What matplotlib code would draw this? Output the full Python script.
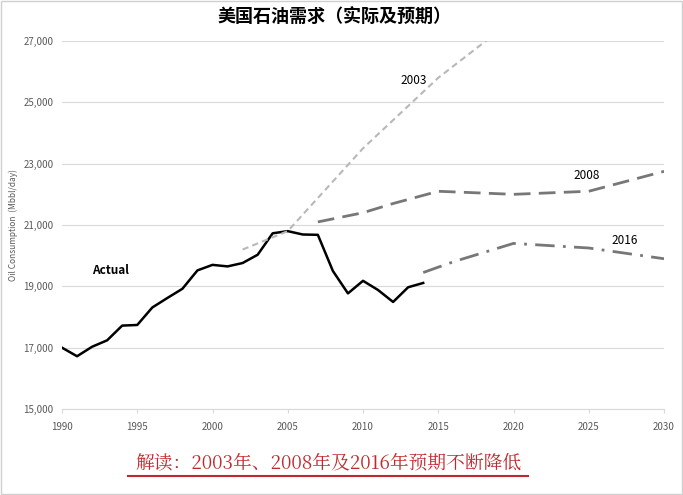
import matplotlib
matplotlib.use("Agg")
import matplotlib.pyplot as plt
from matplotlib.ticker import FuncFormatter

plt.rcParams['font.family'] = ['Noto Sans CJK SC', 'DejaVu Sans']

actual_years = list(range(1990, 2015))
actual_vals = [17000, 16720, 17030, 17240, 17720, 17740, 18310, 18620, 18920, 19520,
               19700, 19650, 19760, 20030, 20730, 20800, 20690, 20680, 19500, 18770,
               19180, 18880, 18490, 18970, 19110]
f2003_years = [2002, 2005, 2010, 2015, 2020]
f2003_vals = [20200, 20800, 23500, 25800, 27700]
f2008_years = [2007, 2010, 2012, 2015, 2020, 2025, 2030]
f2008_vals = [21100, 21400, 21700, 22100, 22000, 22100, 22750]
f2016_years = [2014, 2016, 2020, 2025, 2030]
f2016_vals = [19450, 19800, 20400, 20250, 19900]
y_ticks = [15000, 17000, 19000, 21000, 23000, 25000, 27000]
x_ticks = [1990, 1995, 2000, 2005, 2010, 2015, 2020, 2025, 2030]

fig = plt.figure(figsize=(6.83, 4.95), dpi=100)
ax = fig.add_axes([62/683, 1-409/495, 602/683, 368/495])
ax.plot(actual_years, actual_vals, color='black', lw=1.8)
ax.plot(f2003_years, f2003_vals, color='#b8b8b8', lw=1.5, ls=(0, (3, 2)))
ax.plot(f2008_years, f2008_vals, color='#777777', lw=2, ls=(0, (6, 3)))
ax.plot(f2016_years, f2016_vals, color='#777777', lw=2, ls=(0, (7, 3, 1, 3)))
ax.set_xlim(1990, 2030)
ax.set_ylim(15000, 27000)
ax.set_xticks(x_ticks)
ax.set_yticks(y_ticks)
ax.yaxis.set_major_formatter(FuncFormatter(lambda v, p: f"{int(v):,}"))
ax.grid(axis='y', color='#d9d9d9', lw=0.8)
ax.set_axisbelow(True)
for s in ['top', 'right', 'left']:
    ax.spines[s].set_visible(False)
ax.spines['bottom'].set_color('#d9d9d9')
ax.tick_params(length=0, labelsize=7, colors='#595959', pad=6)
ax.tick_params(axis='x', length=3, color='#d9d9d9')
ax.set_ylabel('Oil Consumption  (Mbbl/day)', fontsize=6, color='#595959', labelpad=4)
ax.text(1992, 19500, 'Actual', fontsize=8.5, fontweight='bold', ha='left', va='center')
ax.text(2012.5, 25700, '2003', fontsize=8.5, va='center')
ax.text(2024, 22600, '2008', fontsize=8.5, va='center')
ax.text(2026.5, 20500, '2016', fontsize=8.5, va='center')
fig.text(0.49, 0.965, '美国石油需求（实际及预期）', ha='center', va='center', fontsize=13, fontweight='bold')
fig.text(0.48, 0.063, '解读：2003年、2008年及2016年预期不断降低', ha='center', va='center',
         fontsize=13.5, color='#c0282d', family='Noto Serif CJK SC')
fig.add_artist(plt.Line2D([128/683, 528/683], [1-476/495]*2, color='#c0282d', lw=1.5))
fig.add_artist(plt.Rectangle((0.002, 0.002), 0.996, 0.996, fill=False, ec='#d0d0d0', lw=1))
fig.savefig('out.png', dpi=100)
